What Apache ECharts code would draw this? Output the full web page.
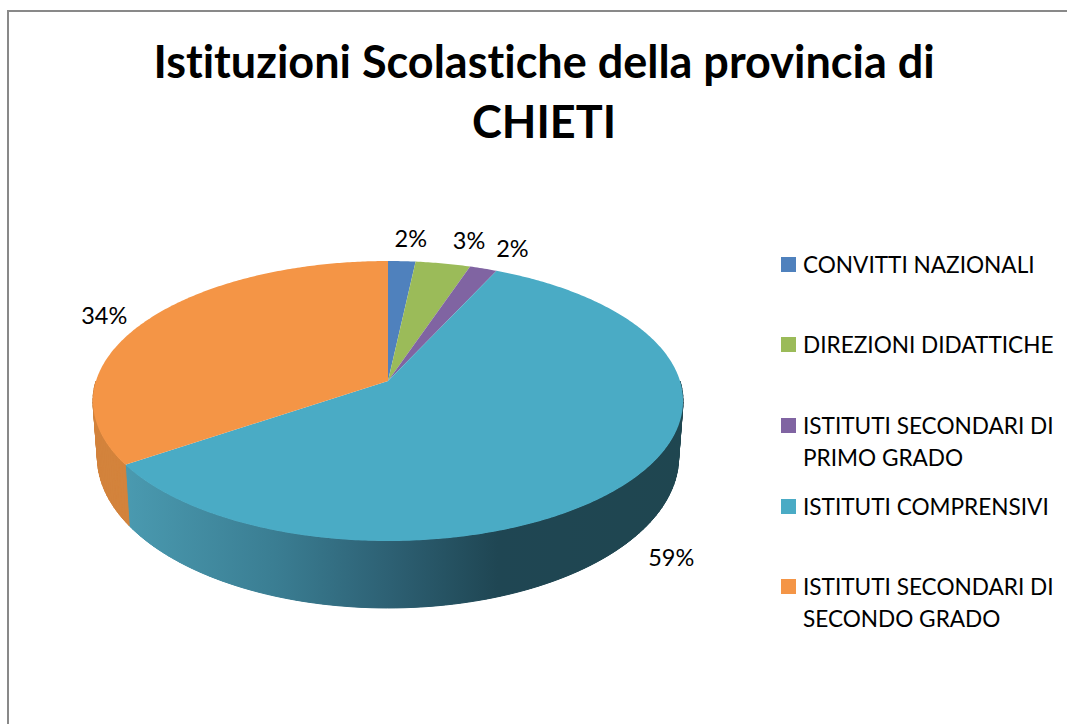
<!DOCTYPE html>
<html>
<head>
<meta charset="utf-8">
<style>
html, body { margin: 0; padding: 0; background: #fff; }
#main { width: 1067px; height: 724px; }
#main text { font-variant-ligatures: none; }
</style>
<script src="https://cdn.jsdelivr.net/npm/echarts@6/dist/echarts.min.js"></script>
</head>
<body>
<div id="main"></div>
<script>
var categories = ['CONVITTI NAZIONALI', 'DIREZIONI DIDATTICHE', 'ISTITUTI SECONDARI DI', 'ISTITUTI COMPRENSIVI', 'ISTITUTI SECONDARI DI '];
var secondLines = ['', '', 'PRIMO GRADO', '', 'SECONDO GRADO'];
var schoolCounts = [1, 2, 1, 34, 20];
var colors = ['#4f81bd', '#9bbb59', '#8064a2', '#4aabc5', '#f49546'];
var titleText = 'Istituzioni Scolastiche della provincia di\nCHIETI';

// label shift from the rim point at the middle of each slice
var labelShift = [[9, -23], [26, -23], [29, -21], [38, 78], [-42, -6]];
var legendTops = [264, 344, 425, 506, 586];

var FONT = 'Lato';
var cx = 388, apexY = 381;
var persp = 1 / 7, radX = 292, radY = 137.14;
var bottomX = 0.985, bottomY = 1.078, bottomApex = 435.5;

var total = schoolCounts.reduce(function (a, b) { return a + b; }, 0);

function topPoint(t) {
    var den = 1 + persp * Math.cos(t);
    return [cx + radX * Math.sin(t) / den, apexY - radY * Math.cos(t) / den];
}
function bottomPoint(t) {
    var p = topPoint(t);
    return [cx + (p[0] - cx) * bottomX, bottomApex + (p[1] - apexY) * bottomY];
}
function arc(fn, a, b) {
    var pts = [], n = Math.max(2, Math.ceil(Math.abs(b - a) / 0.01));
    for (var i = 0; i <= n; i++) {
        pts.push(fn(a + (b - a) * i / n));
    }
    return pts;
}

// gradient on the front wall of the big slice, goes dark towards the right
var wallGradient = {
    type: 'linear', x: 125, y: 0, x2: 690, y2: 0, global: true,
    colorStops: [
        { offset: 0, color: '#4a9ab0' },
        { offset: 0.27, color: '#3a7d92' },
        { offset: 0.47, color: '#2d6073' },
        { offset: 0.66, color: '#1f4653' },
        { offset: 1, color: '#1f4650' }
    ]
};
var sideColors = [null, null, null, wallGradient, '#d3833c'];

function sliceRenderer(index) {
    var before = 0;
    for (var i = 0; i < index; i++) before += schoolCounts[i];
    var start = before / total * Math.PI * 2;
    var end = (before + schoolCounts[index]) / total * Math.PI * 2;

    return function () {
        var children = [];
        // only the front half has a wall, the back one would fringe the rim
        var wallStart = Math.max(start, Math.PI / 2);
        var wallEnd = Math.min(end, Math.PI * 1.5);
        if (wallStart < wallEnd) {
            var wallFill = sideColors[index];
            // base wall, the seams of the strips on top of it do not show
            children.push({
                type: 'polygon',
                z2: 0,
                shape: { points: arc(topPoint, wallStart, wallEnd).concat(arc(bottomPoint, wallStart, wallEnd).reverse()) },
                style: { fill: wallFill }
            });
            // strips fill the notch where the two rims cross at the sides
            var steps = Math.max(2, Math.ceil((wallEnd - wallStart) / 0.025));
            for (var s = 0; s < steps; s++) {
                var a = wallStart + (wallEnd - wallStart) * s / steps;
                var b = wallStart + (wallEnd - wallStart) * (s + 1) / steps;
                children.push({
                    type: 'polygon',
                    z2: 1,
                    shape: { points: [topPoint(a), topPoint(b), bottomPoint(b), bottomPoint(a)] },
                    style: { fill: wallFill, stroke: wallFill, lineWidth: 1 }
                });
            }
        }
        var mid = topPoint((start + end) / 2);
        children.push({
            type: 'polygon',
            z2: 10,
            shape: { points: [[cx, apexY]].concat(arc(topPoint, start, end)) },
            style: { fill: colors[index] }
        });
        children.push({
            type: 'text',
            z2: 20,
            x: mid[0] + labelShift[index][0],
            y: mid[1] + labelShift[index][1],
            style: {
                text: Math.round(schoolCounts[index] / total * 100) + '%',
                fill: '#000',
                font: 'normal 23.5px "Lato"',
                align: 'center',
                verticalAlign: 'middle'
            }
        });
        return { type: 'group', children: children };
    };
}

var chart = echarts.init(document.getElementById('main'), null, { renderer: 'svg' });

var titles = [{
    text: titleText,
    left: 544,
    top: 31,
    padding: 0,
    textAlign: 'center',
    textStyle: { fontFamily: FONT, fontSize: 45, fontWeight: 'bold', color: '#000', lineHeight: 60 }
}];
secondLines.forEach(function (line, i) {
    if (line) {
        titles.push({
            text: line,
            left: 803,
            top: legendTops[i] + 16,
            padding: 0,
            textStyle: { fontFamily: FONT, fontSize: 22.6, fontWeight: 'normal', color: '#000', lineHeight: 32 }
        });
    }
});

var option = {
    animation: false,
    backgroundColor: '#fff',
    title: titles,
    legend: categories.map(function (name, i) {
        return {
            data: [name],
            left: 781,
            top: legendTops[i] - 11,
            padding: 0,
            icon: 'rect',
            itemWidth: 15,
            itemHeight: 15,
            selectedMode: false,
            textStyle: { fontFamily: FONT, fontSize: 22.6, color: '#000', padding: [0, 0, 0, 2] },
            formatter: function (n) { return n.trim(); }
        };
    }),
    graphic: [{
        type: 'polyline',
        silent: true,
        shape: { points: [[8, 724], [8, 11], [1067, 11]] },
        style: { stroke: '#898989', lineWidth: 2, fill: null }
    }],
    series: categories.map(function (name, i) {
        return {
            type: 'custom',
            name: name,
            coordinateSystem: 'none',
            silent: true,
            itemStyle: { color: colors[i] },
            renderItem: sliceRenderer(i),
            data: [schoolCounts[i]]
        };
    })
};

chart.setOption(option);
</script>
</body>
</html>
